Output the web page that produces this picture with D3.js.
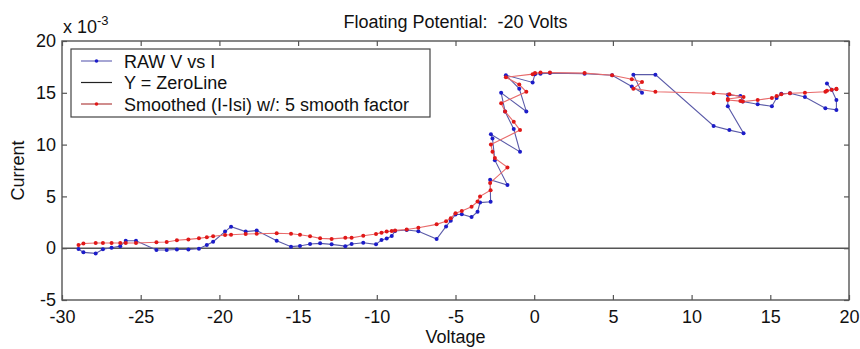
<!DOCTYPE html>
<html>
<head>
<meta charset="utf-8">
<script src="https://cdn.jsdelivr.net/npm/d3@7/dist/d3.min.js"></script>
<style>
  html, body { margin: 0; padding: 0; background: #fff; }
  svg text { font-family: "Liberation Sans", Arial, Helvetica, sans-serif; fill: #111; white-space: pre; }
</style>
</head>
<body>
<svg id="chart" width="860" height="349"></svg>
<script>
// Probe sweep: voltage (V) and current (x 1e-3 A)
const voltage = [
  -28.95, -28.64, -27.86, -27.4, -26.85, -26.3, -25.95, -25.3, -24.0, -23.35,
  -22.7, -21.97, -21.3, -20.8, -20.4, -19.64, -19.26, -18.33, -17.63, -16.36,
  -15.45, -14.88, -14.24, -13.6, -12.87, -12.0, -11.6, -10.86, -10.05, -9.7,
  -9.37, -9.05, -8.84, -8.1, -7.36, -6.2, -5.6, -5.3, -5.0, -4.6,
  -3.98, -3.6, -3.44, -2.77, -2.8, -1.7, -2.5, -2.65, -2.75, -0.9,
  -1.3, -1.85, -2.1, -0.5, -0.95, -1.8, -0.1, 0.05, 0.4, 1.0,
  3.2, 4.95, 6.2, 6.85, 6.3, 7.7, 11.4, 12.4, 13.3, 12.3,
  12.3, 13.1, 13.25, 14.2, 15.1, 15.4, 15.7, 16.25, 17.2, 18.5,
  19.2, 19.2, 18.9, 18.6
];
const rawCurrent = [
  -0.08, -0.4, -0.5, -0.1, 0.05, 0.2, 0.72, 0.72, -0.17, -0.17,
  -0.12, -0.12, -0.05, 0.3, 0.63, 1.6, 2.08, 1.6, 1.7, 0.72,
  0.15, 0.22, 0.4, 0.47, 0.37, 0.2, 0.4, 0.53, 0.37, 0.8,
  0.94, 1.18, 1.66, 1.76, 1.63, 0.88, 2.1, 2.65, 3.25, 3.27,
  3.0, 3.52, 4.4, 4.49, 6.6, 6.1, 8.5, 10.6, 11.0, 9.3,
  11.5, 13.2, 15.0, 13.2, 15.4, 16.7, 16.0, 16.8, 16.85, 16.9,
  16.85, 16.7, 15.6, 15.0, 16.75, 16.75, 11.8, 11.4, 11.1, 13.7,
  14.8, 14.7, 14.15, 13.9, 13.7, 14.5, 14.9, 14.95, 14.6, 13.5,
  13.35, 14.3, 15.3, 15.9
];
const smoothCurrent = [
  0.3, 0.45, 0.5, 0.5, 0.5, 0.5, 0.5, 0.5, 0.57, 0.6,
  0.76, 0.85, 0.95, 1.05, 1.15, 1.27, 1.3, 1.37, 1.4, 1.44,
  1.4, 1.3, 1.15, 0.95, 0.9, 1.0, 1.0, 1.2, 1.37, 1.5,
  1.6, 1.65, 1.72, 1.8, 1.98, 2.3, 2.6, 2.9, 3.37, 3.6,
  4.0, 4.5, 5.0, 5.6, 6.3, 7.8, 8.7, 9.3, 10.0, 11.4,
  12.2, 13.2, 14.0, 15.1, 15.8, 16.5, 16.8, 16.9, 16.95, 16.95,
  16.9, 16.7, 16.3, 16.05, 15.4, 15.1, 14.95, 14.85, 14.6, 14.4,
  14.3, 14.2, 14.15, 14.3, 14.5, 14.7, 14.86, 14.95, 15.0, 15.1,
  15.4, 15.35, 15.3, 15.2
];
const xTicks = [-30, -25, -20, -15, -10, -5, 0, 5, 10, 15, 20];
const yTicks = [-5, 0, 5, 10, 15, 20];
const legendLabels = ["RAW V vs I", "Y = ZeroLine", "Smoothed (I-Isi) w/: 5 smooth factor"];
const titleText = "Floating Potential:  -20 Volts";

const svg = d3.select("#chart");
const plotLeft = 62, plotRight = 849, plotTop = 41, plotBottom = 300;
const fs = 18;
const plainNumber = d => String(d);

const x = d3.scaleLinear().domain([-30, 20]).range([plotLeft, plotRight]);
const y = d3.scaleLinear().domain([-5, 20]).range([plotBottom, plotTop]);

// Plot frame
svg.append("rect")
  .attr("x", plotLeft).attr("y", plotTop)
  .attr("width", plotRight - plotLeft).attr("height", plotBottom - plotTop)
  .attr("fill", "#fff").attr("stroke", "#555").attr("stroke-width", 1.4);

// Inward-facing ticks on all four sides
function styleAxis(g) {
  g.select(".domain").remove();
  g.selectAll(".tick line").attr("stroke", "#555").attr("stroke-width", 1.2);
  g.selectAll("text").style("font-size", fs + "px").attr("fill", "#111");
}
svg.append("g").attr("transform", `translate(0,${plotBottom})`)
  .call(d3.axisBottom(x).tickValues(xTicks).tickSize(-5).tickPadding(10).tickFormat(plainNumber))
  .call(styleAxis);
svg.append("g").attr("transform", `translate(0,${plotTop})`)
  .call(d3.axisTop(x).tickValues(xTicks).tickSize(-5).tickFormat(""))
  .call(styleAxis);
svg.append("g").attr("transform", `translate(${plotLeft},0)`)
  .call(d3.axisLeft(y).tickValues(yTicks).tickSize(-5).tickPadding(6).tickFormat(plainNumber))
  .call(styleAxis);
svg.append("g").attr("transform", `translate(${plotRight},0)`)
  .call(d3.axisRight(y).tickValues(yTicks).tickSize(-5).tickFormat(""))
  .call(styleAxis);

// Zero reference line
svg.append("line")
  .attr("x1", plotLeft).attr("x2", plotRight)
  .attr("y1", y(0)).attr("y2", y(0))
  .attr("stroke", "#555").attr("stroke-width", 1.6);

const pts = voltage.map((v, i) => ({ v, raw: rawCurrent[i], sm: smoothCurrent[i] }));

// Raw sweep
svg.append("path").datum(pts)
  .attr("fill", "none").attr("stroke", "#5a5aa8").attr("stroke-width", 1.1)
  .attr("d", d3.line().x(d => x(d.v)).y(d => y(d.raw)));
svg.append("g").selectAll("circle").data(pts).join("circle")
  .attr("cx", d => x(d.v)).attr("cy", d => y(d.raw)).attr("r", 2)
  .attr("fill", "#1c1cc8");

// Smoothed sweep
svg.append("path").datum(pts)
  .attr("fill", "none").attr("stroke", "#e86a6a").attr("stroke-width", 1.1)
  .attr("d", d3.line().x(d => x(d.v)).y(d => y(d.sm)));
svg.append("g").selectAll("circle").data(pts).join("circle")
  .attr("cx", d => x(d.v)).attr("cy", d => y(d.sm)).attr("r", 2)
  .attr("fill", "#e01818");

// Legend
const lg = svg.append("g");
lg.append("rect").attr("x", 71).attr("y", 49).attr("width", 359).attr("height", 68)
  .attr("fill", "#fff").attr("stroke", "#444").attr("stroke-width", 1.2);
const legendStyles = [
  { stroke: "#6a6ab8", dot: "#1c1cc8" },
  { stroke: "#222", dot: null },
  { stroke: "#b04040", dot: "#e01818" }
];
legendLabels.forEach((label, i) => {
  const ry = 61 + i * 21.5;
  lg.append("line").attr("x1", 81).attr("x2", 112).attr("y1", ry).attr("y2", ry)
    .attr("stroke", legendStyles[i].stroke).attr("stroke-width", 1.2);
  if (legendStyles[i].dot) {
    lg.append("circle").attr("cx", 96.5).attr("cy", ry).attr("r", 1.8).attr("fill", legendStyles[i].dot);
  }
  lg.append("text").attr("x", 124).attr("y", ry + 6.5).style("font-size", fs + "px").text(label);
});

// Titles and axis labels
svg.append("text").attr("x", (plotLeft + plotRight) / 2).attr("y", 28)
  .attr("text-anchor", "middle").style("font-size", fs + "px").text(titleText);
svg.append("text").attr("x", (plotLeft + plotRight) / 2).attr("y", 343)
  .attr("text-anchor", "middle").style("font-size", fs + "px").text("Voltage");
svg.append("text").attr("transform", `translate(24,${(plotTop + plotBottom) / 2}) rotate(-90)`)
  .attr("text-anchor", "middle").style("font-size", fs + "px").text("Current");

// Exponent marker for the current axis
const ex = svg.append("text").attr("x", 63).attr("y", 33).style("font-size", fs + "px");
ex.append("tspan").text("x 10");
ex.append("tspan").attr("dy", -8).style("font-size", "13px").text("-3");
</script>
</body>
</html>
